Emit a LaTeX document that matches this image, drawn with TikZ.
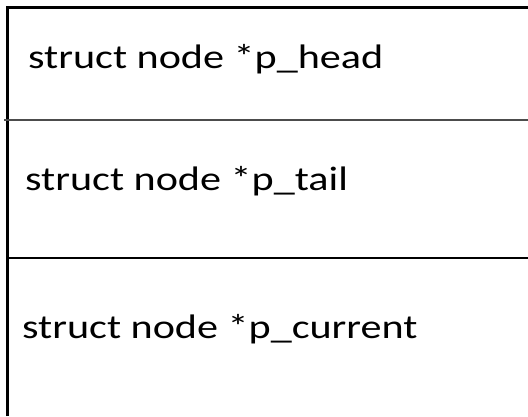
\documentclass[tikz,border=0pt]{standalone}
\usepackage{fontspec}
\setmainfont{Carlito}
\newfontfamily\widefont[FakeStretch=1.24]{Carlito}
\begin{document}
\begin{tikzpicture}[x=1pt,y=-1pt,
  field/.style={anchor=base west,inner sep=0pt,font=\widefont\fontsize{34}{40}\selectfont},
  frame/.style={line width=3pt,black},
  sep/.style={line width=2pt}]
\useasboundingbox (0,0) rectangle (528,416);
\draw[frame] (7,416) -- (7,7) -- (528,7);
\draw[sep,black!70] (4,120) -- (528,120);
\draw[sep,black] (7,258) -- (528,258);
\node[field] (head) at (28,68) {struct node *p\_head};
\node[field] (tail) at (25,190) {struct node *p\_tail};
\node[field] (cur) at (22,338) {struct node *p\_current};
\end{tikzpicture}
\end{document}
